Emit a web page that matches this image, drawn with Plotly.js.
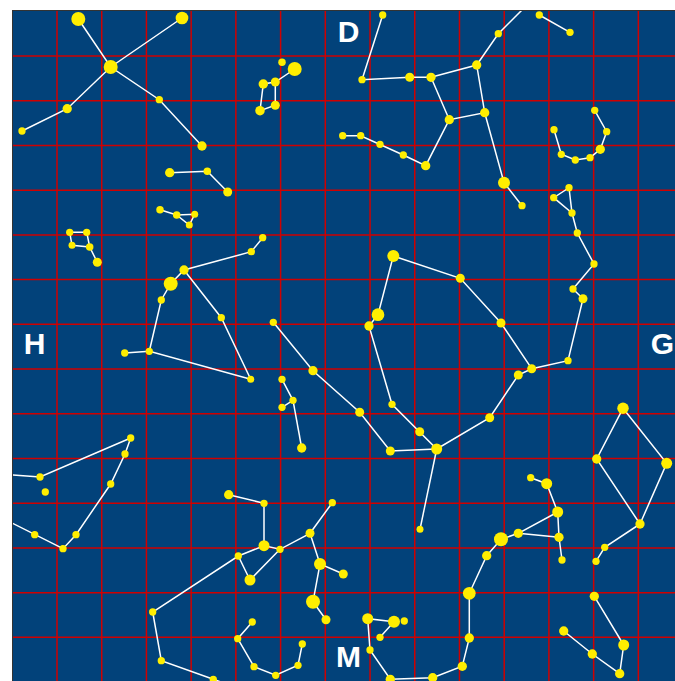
<!DOCTYPE html>
<html>
<head>
<meta charset="utf-8">
<script src="https://cdn.plot.ly/plotly-3.0.1.min.js"></script>
<style>
html,body{margin:0;padding:0;background:#fff}
#chart .gridlayer path{shape-rendering:auto !important}
</style>
</head>
<body>
<div id="chart" style="width:675px;height:681px"></div>
<script>
const starX = [78.3,110.7,182,67.2,22,159.3,202,
  294.7,275.3,263.3,260,275.3,282,
  169.7,207.3,227.7,
  160,176.7,194.7,189.3,
  69.7,86.7,89.7,72,97.3,
  262.7,251.3,184,170.7,161.3,149.3,124.7,221.3,250.7,
  273.3,313,359.7,390.3,436.7,392,419.7,420,489.7,518.3,531.7,568,
  501,460.3,393.3,378,369,
  583,573,594,577.3,572,569,553.7,
  382.7,362,409.7,431,476.7,498.3,484.7,449.3,425.7,403.3,380,360.7,342.7,504,522,539.3,570,
  594.7,606.7,600.3,590,575.3,561.3,554,
  130.7,125,110.7,76,63,34.7,40,45.3,
  282,293,282,301.7,
  228.7,264,264,238.3,250,280,310,332.3,320,343.3,313,326,
  152.7,161.3,213.3,
  252.3,237.7,254,275.7,298,302.3,
  367.7,394,404.3,380,370,390.3,432.7,462.3,469.3,469.3,486.7,501,518.3,557.7,559,562,546.7,530.7,
  623,666.7,596.7,640,604.7,596,
  594.3,623.7,619.7,592.3,563.7];
const starY = [19,67,18,108.7,131,99.7,146,
  69,82,84,110.7,105.3,62.3,
  172.7,171.3,192,
  209.7,215,214.3,225,
  232.3,232.3,247,245.3,262.3,
  237.7,251.7,270,283.7,300,351.3,353,317.7,379.3,
  322.3,370.7,412.3,451,449,404.3,431.7,529.3,417.7,375,368.7,360.7,
  323,278.3,256,314.7,326,
  298.7,289,264,233,213,187.7,197.7,
  15,79.7,77.3,77.3,65,33.7,112.7,119.7,165.7,155,144.3,135.7,135.7,182.7,205.7,15,32.3,
  110.3,131.7,149.3,157.7,160,154.3,129.7,
  438,454,484,534.7,548.7,534.7,477,492,
  379.3,400.3,407.3,448,
  494.7,503.3,545.7,556,580,549.3,533.3,502.7,564,574,601.7,619.7,
  612,660.7,679.3,
  622,638.7,666.7,675.3,665.3,644,
  618.7,621.7,621,637.3,650,679.3,677.7,666.3,638,593.3,555.7,539.3,533.3,512,537.3,560,483.7,477.7,
  408.3,463.3,459,524,547.3,561.3,
  596.3,645,673.7,654,631];
const starSize = [14,14,12.7,9.3,7.3,7.3,9.3,
  14,9,9.5,9.5,9,7.5,
  9.3,7.5,9,
  7.5,7.5,7,7,
  7.3,7.3,7.5,7,9,
  7.3,7.3,9.3,14,7.3,7.3,7.3,7.3,7,
  7.3,9.3,9,9,11,7.3,9,7,9,9,9,7.3,
  9,9,12,12.7,9.3,
  9,7.3,7.3,7.3,7.3,7.3,7.3,
  7.3,7.3,9,9.3,9.3,7.3,9.3,9.3,9.3,7.3,7.3,7.3,7.3,12,7.3,7.3,7.3,
  7.3,7.3,9.3,7.3,7.3,7.3,7.3,
  7.3,7.3,7.3,7.3,7.3,7.3,7.3,7.3,
  7.3,7.3,7.3,9.3,
  9.3,7.3,11,7.3,11,7.3,9,7.3,12,9,14,9,
  7.3,7.3,7.3,
  7.3,7.3,7.3,7.3,7.3,7.3,
  11,12,7.3,7.3,7.3,9.3,9.3,9.3,9.3,12.7,9.3,14,9.3,11,9.3,7.3,11,7.3,
  11.5,11,9.3,9.3,7.3,7.3,
  9.3,11,9.3,9.3,9.3];

const lineX = [78.3,110.7,159.3,202,null,182,110.7,67.2,22,null,
  294.7,275.3,263.3,260,275.3,275.3,null,
  169.7,207.3,227.7,null,
  160,176.7,194.7,189.3,176.7,null,
  97.3,89.7,86.7,69.7,72,89.7,null,
  262.7,251.3,184,170.7,161.3,149.3,250.7,221.3,184,null,149.3,124.7,null,
  531.7,501,460.3,393.3,378,369,392,419.7,436.7,489.7,518.3,531.7,568,583,573,594,577.3,572,569,553.7,572,null,
  436.7,420,null,436.7,390.3,359.7,313,273.3,null,
  382.7,362,409.7,431,476.7,498.3,535,null,431,449.3,484.7,476.7,null,484.7,504,522,null,
  449.3,425.7,403.3,380,360.7,342.7,null,539.3,570,null,
  594.7,606.7,600.3,590,575.3,561.3,554,null,
  4,40,130.7,125,110.7,76,63,34.7,4,null,
  282,293,282,null,293,301.7,null,
  228.7,264,264,280,310,332.3,null,264,238.3,152.7,161.3,213.3,235,null,238.3,250,280,null,
  310,320,343.3,null,320,313,326,null,
  252.3,237.7,254,275.7,298,302.3,null,
  530.7,546.7,557.7,559,562,null,557.7,518.3,559,null,
  518.3,501,486.7,469.3,469.3,462.3,432.7,390.3,370,367.7,394,380,null,
  623,666.7,640,596.7,623,null,640,604.7,596,null,
  594.3,623.7,619.7,592.3,563.7];
const lineY = [19,67,99.7,146,null,18,67,108.7,131,null,
  69,82,84,110.7,105.3,82,null,
  172.7,171.3,192,null,
  209.7,215,214.3,225,215,null,
  262.3,247,232.3,232.3,245.3,247,null,
  237.7,251.7,270,283.7,300,351.3,379.3,317.7,270,null,351.3,353,null,
  368.7,323,278.3,256,314.7,326,404.3,431.7,449,417.7,375,368.7,360.7,298.7,289,264,233,213,187.7,197.7,213,null,
  449,529.3,null,449,451,412.3,370.7,322.3,null,
  15,79.7,77.3,77.3,65,33.7,-3,null,77.3,119.7,112.7,65,null,112.7,182.7,205.7,null,
  119.7,165.7,155,144.3,135.7,135.7,null,15,32.3,null,
  110.3,131.7,149.3,157.7,160,154.3,129.7,null,
  474.2,477,438,454,484,534.7,548.7,534.7,519,null,
  379.3,400.3,407.3,null,400.3,448,null,
  494.7,503.3,545.7,549.3,533.3,502.7,null,545.7,556,612,660.7,679.3,687,null,556,580,549.3,null,
  533.3,564,574,null,564,601.7,619.7,null,
  622,638.7,666.7,675.3,665.3,644,null,
  477.7,483.7,512,537.3,560,null,512,533.3,537.3,null,
  533.3,539.3,555.7,593.3,638,666.3,677.7,679.3,650,618.7,621.7,637.3,null,
  408.3,463.3,524,459,408.3,null,524,547.3,561.3,null,
  596.3,645,673.7,654,631];

const labelText = ['D','H','G','M'];
const labelX = [348.5,34.5,662.5,348.5];
const labelY = [34.5,346.5,346.5,659.5];

const traces = [
  {x: lineX, y: lineY, mode: 'lines', line: {color: '#ffffff', width: 1.5}, connectgaps: false, hoverinfo: 'skip'},
  {x: starX, y: starY, mode: 'markers', marker: {color: '#ffee00', size: starSize, opacity: 1, line: {width: 0}}, hoverinfo: 'x+y'},
  {x: labelX, y: labelY, mode: 'text', text: labelText, textposition: 'middle center',
   textfont: {family: '"Liberation Sans", Arial, sans-serif', size: 30, color: '#ffffff', weight: 700}, hoverinfo: 'skip'}
];
const gridAxis = {
  showgrid: true, gridcolor: '#d00000', gridwidth: 1.5,
  zeroline: false, showticklabels: false, ticks: '',
  tickmode: 'linear', dtick: 44.72,
  showline: true, linecolor: '#333333', linewidth: 1
};
const layout = {
  width: 675, height: 681,
  margin: {l: 13, r: 0, t: 11, b: 0, pad: 0},
  paper_bgcolor: '#ffffff', plot_bgcolor: '#02427a',
  showlegend: false,
  xaxis: Object.assign({}, gridAxis, {range: [13, 675], tick0: 12.28, side: 'top', anchor: 'y'}),
  yaxis: Object.assign({}, gridAxis, {range: [681, 11], tick0: 11.28, side: 'left', anchor: 'x'})
};
Plotly.newPlot('chart', traces, layout, {displayModeBar: false, staticPlot: true});
</script>
</body>
</html>
